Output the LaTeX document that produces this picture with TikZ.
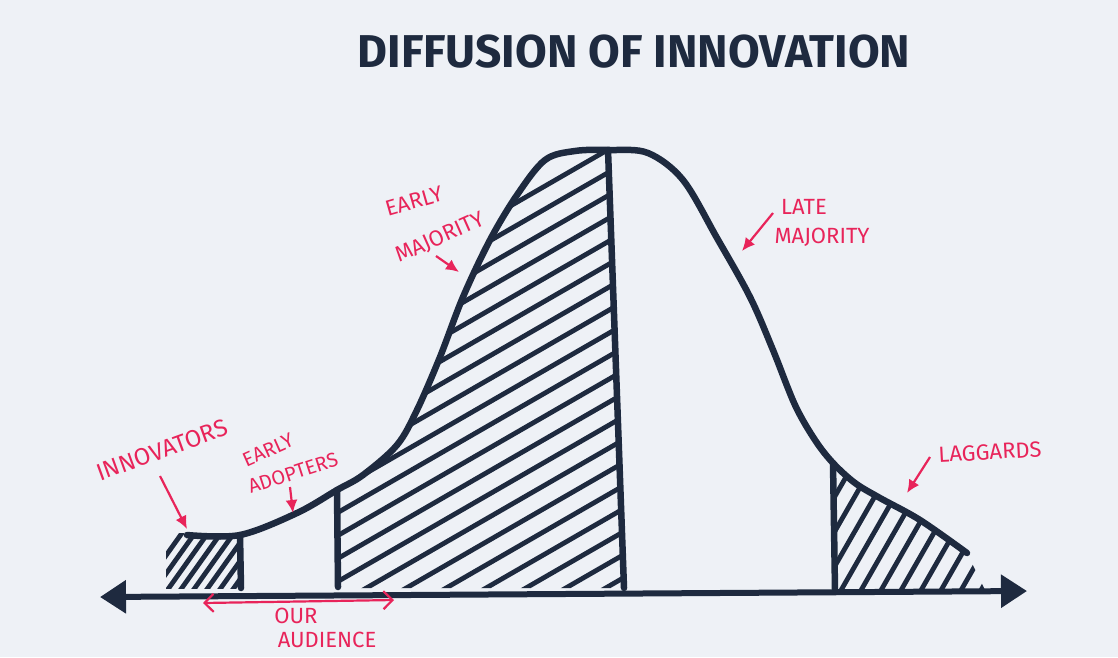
\documentclass[tikz,border=0pt]{standalone}
\usepackage{fontspec}
\setmainfont{Fira Sans}
\usetikzlibrary{arrows.meta}
\definecolor{ink}{HTML}{1E2A3F}
\definecolor{pen}{HTML}{E8245A}
\definecolor{paper}{HTML}{EEF1F6}
\tikzset{
  curve/.style={draw=ink,line width=6.5pt,line cap=round,line join=round},
  hatch/.style={draw=ink,line width=4.8pt,line cap=round},
  lbl/.style={text=pen,inner sep=0pt,font=\fontsize{22}{22}\selectfont},
  pointer/.style={draw=pen,line width=2.2pt,-{Latex[length=13pt,width=12pt]}},
}
\begin{document}
\begin{tikzpicture}[x=1pt,y=-1pt]
\useasboundingbox (0,0) rectangle (1118,657);
\fill[paper] (0,0) rectangle (1118,657);

% hatching: innovators
\begin{scope}
\clip (166,533) rectangle (241,588);
\foreach \x in {140,153,...,260} \draw[hatch] (\x,592) -- ({\x+42},533);
\end{scope}
% hatching: early majority
\begin{scope}
\clip plot[smooth,tension=0.55] coordinates {(337,490) (363,475) (397,445) (417,410) (440,357) (463,297) (490,240) (517,195) (545,160) (575,151) (610,150)} -- (624,588) -- (337,588) -- cycle;
\foreach \c in {140,163,...,900} \draw[hatch] (330,{\c+170}) -- (630,{\c-3});
\end{scope}
% hatching: laggards
\begin{scope}
\clip plot[smooth,tension=0.55] coordinates {(833,463) (855,483) (880,498) (920,520) (967,553)} -- (985,590) -- (834,590) -- cycle;
\foreach \x in {760,780,...,1000} \draw[hatch] (\x,592) -- ({\x+70},470);
\end{scope}

% bell curve
\draw[curve] plot[smooth,tension=0.55] coordinates {(187,535) (240,535) (297,513) (337,490) (363,475) (397,445) (417,410) (440,357) (463,297) (490,240) (517,195) (545,160) (575,151) (610,150) (648,153) (683,180) (717,238) (750,297) (773,350) (795,405) (815,440) (833,463) (855,483) (880,498) (920,520) (967,553)};

% dividers
\draw[curve] (240,535) -- (241,588);
\draw[curve] (337,490) -- (338,587);
\draw[curve] (608,150) -- (624,588);
\draw[curve] (833,463) -- (835,590);

% axis
\draw[draw=ink,line width=6pt,{Triangle[length=26pt,width=32pt]}-{Triangle[length=26pt,width=32pt]}] (100,597) -- (1027,591);

% title
\node[text=ink,inner sep=0pt,font=\fontsize{46}{46}\bfseries] (title) at (634,52) {DIFFUSION OF INNOVATION};

% labels
\node[lbl,rotate=20,font=\fontsize{24}{24}\selectfont] (innov) at (162,450) {INNOVATORS};
\node[lbl,rotate=24,font=\fontsize{20}{20}\selectfont] (ea1) at (268,450) {EARLY};
\node[lbl,rotate=18,font=\fontsize{20}{20}\selectfont] (ea2) at (293,473) {ADOPTERS};
\node[lbl,rotate=16] (em1) at (414,201) {EARLY};
\node[lbl,rotate=24] (em2) at (440,238) {MAJORITY};
\node[lbl] (lm1) at (804,207) {LATE};
\node[lbl] (lm2) at (822,237) {MAJORITY};
\node[lbl,rotate=3] (lag) at (990,452) {LAGGARDS};
\node[lbl] (aud1) at (296,616) {OUR};
\node[lbl] (aud2) at (327,640) {AUDIENCE};

% pointers
\coordinate (innovS) at (160,476); \coordinate (innovT) at (187,529);
\coordinate (eaS) at (290,487); \coordinate (eaT) at (293,513);
\coordinate (emS) at (436,256); \coordinate (emT) at (459,272);
\coordinate (lmS) at (773,213); \coordinate (lmT) at (742,251);
\coordinate (lagS) at (930,457); \coordinate (lagT) at (907,493);
\draw[pointer] (innovS) -- (innovT);
\draw[pointer] (eaS) -- (eaT);
\draw[pointer] (emS) -- (emT);
\draw[pointer] (lmS) -- (lmT);
\draw[pointer] (lagS) -- (lagT);

% audience span
\coordinate (audL) at (203,603); \coordinate (audR) at (394,600);
\draw[draw=pen,line width=2.2pt,{Straight Barb[length=9pt,width=18pt]}-{Straight Barb[length=9pt,width=18pt]}] (audL) -- (audR);
\end{tikzpicture}
\end{document}
